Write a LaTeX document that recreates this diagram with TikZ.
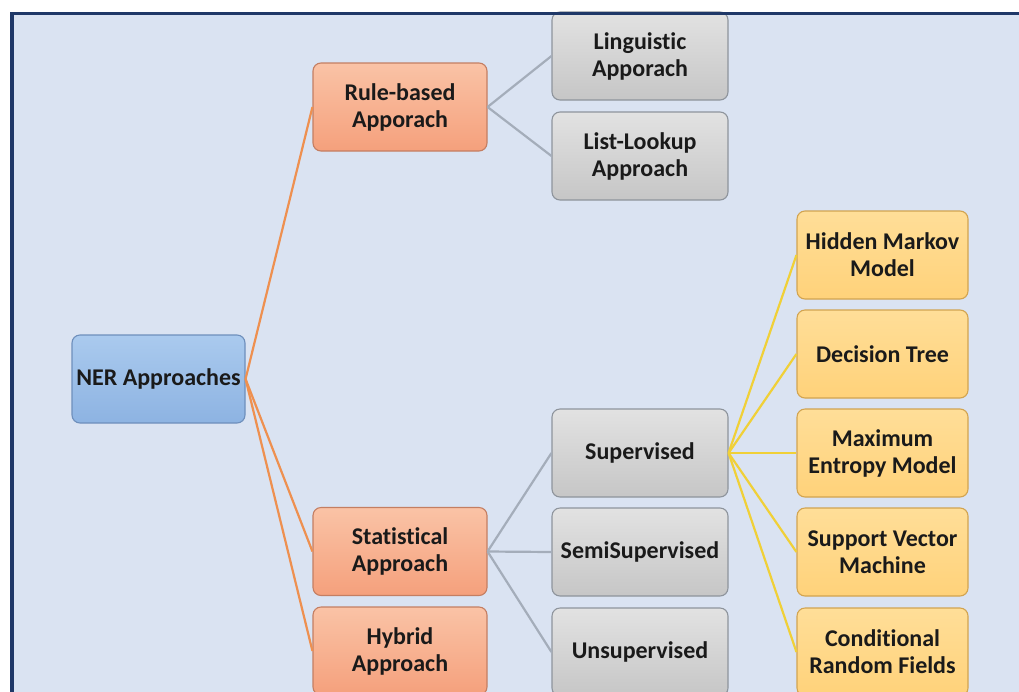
\documentclass[tikz,border=0pt]{standalone}
\usepackage{fontspec}
\setmainfont{Carlito}[Ligatures=NoCommon]
\definecolor{bgblue}{HTML}{DAE3F2}
\definecolor{frame}{HTML}{1F3868}
\definecolor{blueT}{HTML}{AACAEE}
\definecolor{blueB}{HTML}{8DB3E2}
\definecolor{blueD}{HTML}{6E8FBC}
\definecolor{orT}{HTML}{FAC3A6}
\definecolor{orB}{HTML}{F5A07C}
\definecolor{orD}{HTML}{C47E62}
\definecolor{grT}{HTML}{E2E2E2}
\definecolor{grB}{HTML}{C6C6C6}
\definecolor{grD}{HTML}{8E949C}
\definecolor{yeT}{HTML}{FFDE98}
\definecolor{yeB}{HTML}{FFD27A}
\definecolor{yeD}{HTML}{D2A450}
\definecolor{orL}{HTML}{EE9050}
\definecolor{grL}{HTML}{A4ADBA}
\definecolor{yeL}{HTML}{F0D038}
\definecolor{txt}{HTML}{1A1A1A}
\begin{document}
\begin{tikzpicture}[x=1pt,y=-1pt,
  box/.style={rounded corners=8pt, line width=1.1pt, align=center, inner sep=0pt,
    font=\fontsize{24}{27}\selectfont\bfseries, text=txt, minimum height=88pt},
  bluebox/.style={box, draw=blueD, top color=blueT, bottom color=blueB, minimum width=173pt},
  orbox/.style={box, draw=orD, top color=orT, bottom color=orB, minimum width=174pt},
  grbox/.style={box, draw=grD, top color=grT, bottom color=grB, minimum width=176pt},
  yebox/.style={box, draw=yeD, top color=yeT, bottom color=yeB, minimum width=171pt},
  orline/.style={draw=orL, line width=2.2pt},
  grline/.style={draw=grL, line width=2.2pt},
  yeline/.style={draw=yeL, line width=2.2pt}]
\useasboundingbox (0,0) rectangle (1019,691);
\clip (0,0) rectangle (1019,691);
\fill[white] (0,0) rectangle (1019,691);
\fill[bgblue] (12,13.5) rectangle (1030,700);

\node[bluebox] (ner) at (158.5,379) {NER Approaches};
\node[orbox] (rule) at (400,107) {Rule-based\\Apporach};
\node[orbox] (stat) at (400,551.5) {Statistical\\Approach};
\node[orbox] (hyb) at (400,651) {Hybrid\\Approach};
\node[grbox] (ling) at (640,56) {Linguistic\\Apporach};
\node[grbox] (list) at (640,156) {List-Lookup\\Approach};
\node[grbox] (sup) at (640,453) {Supervised};
\node[grbox] (semi) at (640,552) {SemiSupervised};
\node[grbox] (unsup) at (640,652) {Unsupervised};
\node[yebox] (hmm) at (882.5,255) {Hidden Markov\\Model};
\node[yebox] (dt) at (882.5,354) {Decision Tree};
\node[yebox] (mem) at (882.5,453) {Maximum\\Entropy Model};
\node[yebox] (svm) at (882.5,552) {Support Vector\\Machine};
\node[yebox] (crf) at (882.5,652) {Conditional\\Random Fields};

\draw[orline] (ner.east) -- (rule.west);
\draw[orline] (ner.east) -- (stat.west);
\draw[orline] (ner.east) -- (hyb.west);
\draw[grline] (rule.east) -- (ling.west);
\draw[grline] (rule.east) -- (list.west);
\draw[grline] (stat.east) -- (sup.west);
\draw[grline] (stat.east) -- (semi.west);
\draw[grline] (stat.east) -- (unsup.west);
\foreach \t in {hmm,dt,mem,svm,crf} \draw[yeline] (sup.east) -- (\t.west);

\draw[frame, line width=3.5pt] (12,700) -- (12,13.5) -- (1030,13.5);
\end{tikzpicture}
\end{document}
